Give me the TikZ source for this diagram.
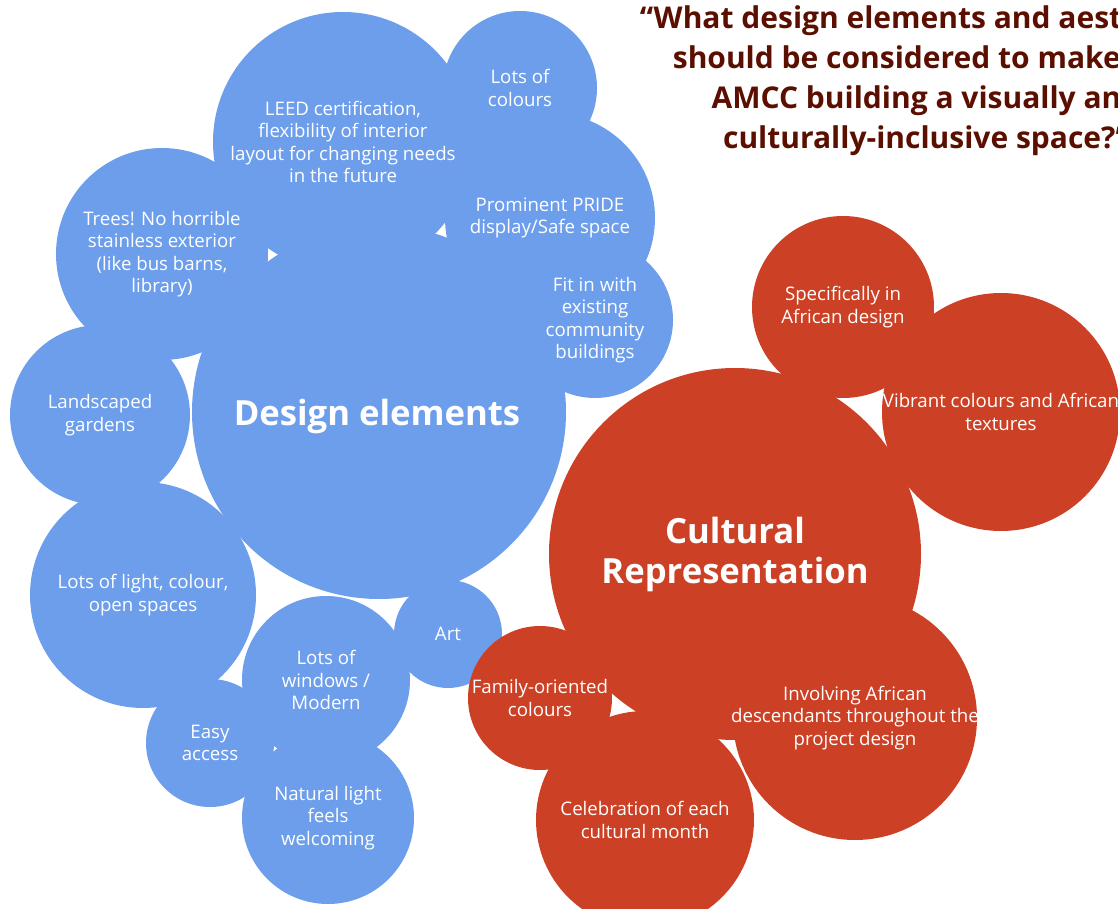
\documentclass[tikz,border=0pt]{standalone}
\usepackage{fontspec}
\setmainfont{Open Sans}
\definecolor{bubblue}{HTML}{6D9EEB}
\definecolor{bubred}{HTML}{CC4125}
\definecolor{asktext}{HTML}{5B0F00}

\begin{document}
\begin{tikzpicture}[x=0.75pt, y=-0.75pt,
    bubble/.style={circle, inner sep=0pt, minimum size=1.5pt*#1},
    designbub/.style={bubble=#1, fill=bubblue},
    culturebub/.style={bubble=#1, fill=bubred},
    bubtext/.style={text=white, align=center, font=\fontsize{14}{16.9}\selectfont},
    bigtext/.style={text=white, align=center, font=\bfseries\fontsize{26}{30}\selectfont}]
    \useasboundingbox (0,0) rectangle (1118,909);

    % Design elements bubbles
    \node (design) [designbub=187] at (379,412) {};
    \node (leed) [designbub=130] at (343,142) {};
    \node (colours) [designbub=77] at (520,88) {};
    \node (pride) [designbub=105] at (550,218) {};
    \node (fitin) [designbub=78] at (595,320) {};
    \node (trees) [designbub=106] at (162,254) {};
    \node (gardens) [designbub=90] at (100,415) {};
    \node (light) [designbub=113] at (143,595) {};
    \node (art) [designbub=54] at (448,634) {};
    \node (windows) [designbub=84] at (326,680) {};
    \node (access) [designbub=64] at (210,743) {};
    \node (natural) [designbub=86] at (328,818) {};

    % Cultural representation bubbles
    \node (culture) [culturebub=186] at (735,554) {};
    \node (african) [culturebub=91] at (843,307) {};
    \node (vibrant) [culturebub=119] at (1001,412) {};
    \node (involve) [culturebub=122] at (855,718) {};
    \node (family) [culturebub=72] at (540,698) {};
    \node (month) [culturebub=109] at (645,820) {};

    % Texts
    \node [bigtext, xshift=-1.5pt, yshift=-3pt] at (design) {Design elements};
    \node [bubtext] at (leed) {LEED certification,\\flexibility of interior\\layout for changing needs\\in the future};
    \node [bubtext] at (colours) {Lots of\\colours};
    \node [bubtext] at (pride) {Prominent PRIDE\\display/Safe space};
    \node [bubtext] at (fitin) {Fit in with\\existing\\community\\buildings};
    \node [bubtext] at (trees) {Trees! No horrible\\stainless exterior\\(like bus barns,\\library)};
    \node [bubtext] at (gardens) {Landscaped\\gardens};
    \node [bubtext] at (light) {Lots of light, colour,\\open spaces};
    \node [bubtext] at (art) {Art};
    \node [bubtext] at (windows) {Lots of\\windows /\\Modern};
    \node [bubtext] at (access) {Easy\\access};
    \node [bubtext] at (natural) {Natural light\\feels\\welcoming};

    \node [bigtext] at (culture) {Cultural\\Representation};
    \node [bubtext] at (african) {Specifically in\\African design};
    \node [bubtext] at (vibrant) {Vibrant colours and African\\textures};
    \node [bubtext] at (involve) {Involving African\\descendants throughout the\\project design};
    \node [bubtext] at (family) {Family-oriented\\colours};
    \node [bubtext] at (month) {Celebration of each\\cultural month};

    % Question
    \node (question) [text=asktext, align=center, font=\bfseries\fontsize{22.5}{30}\selectfont] at (926,81)
        {“What design elements and aesthetics\\should be considered to make the\\AMCC building a visually and\\culturally-inclusive space?”};
\end{tikzpicture}
\end{document}
